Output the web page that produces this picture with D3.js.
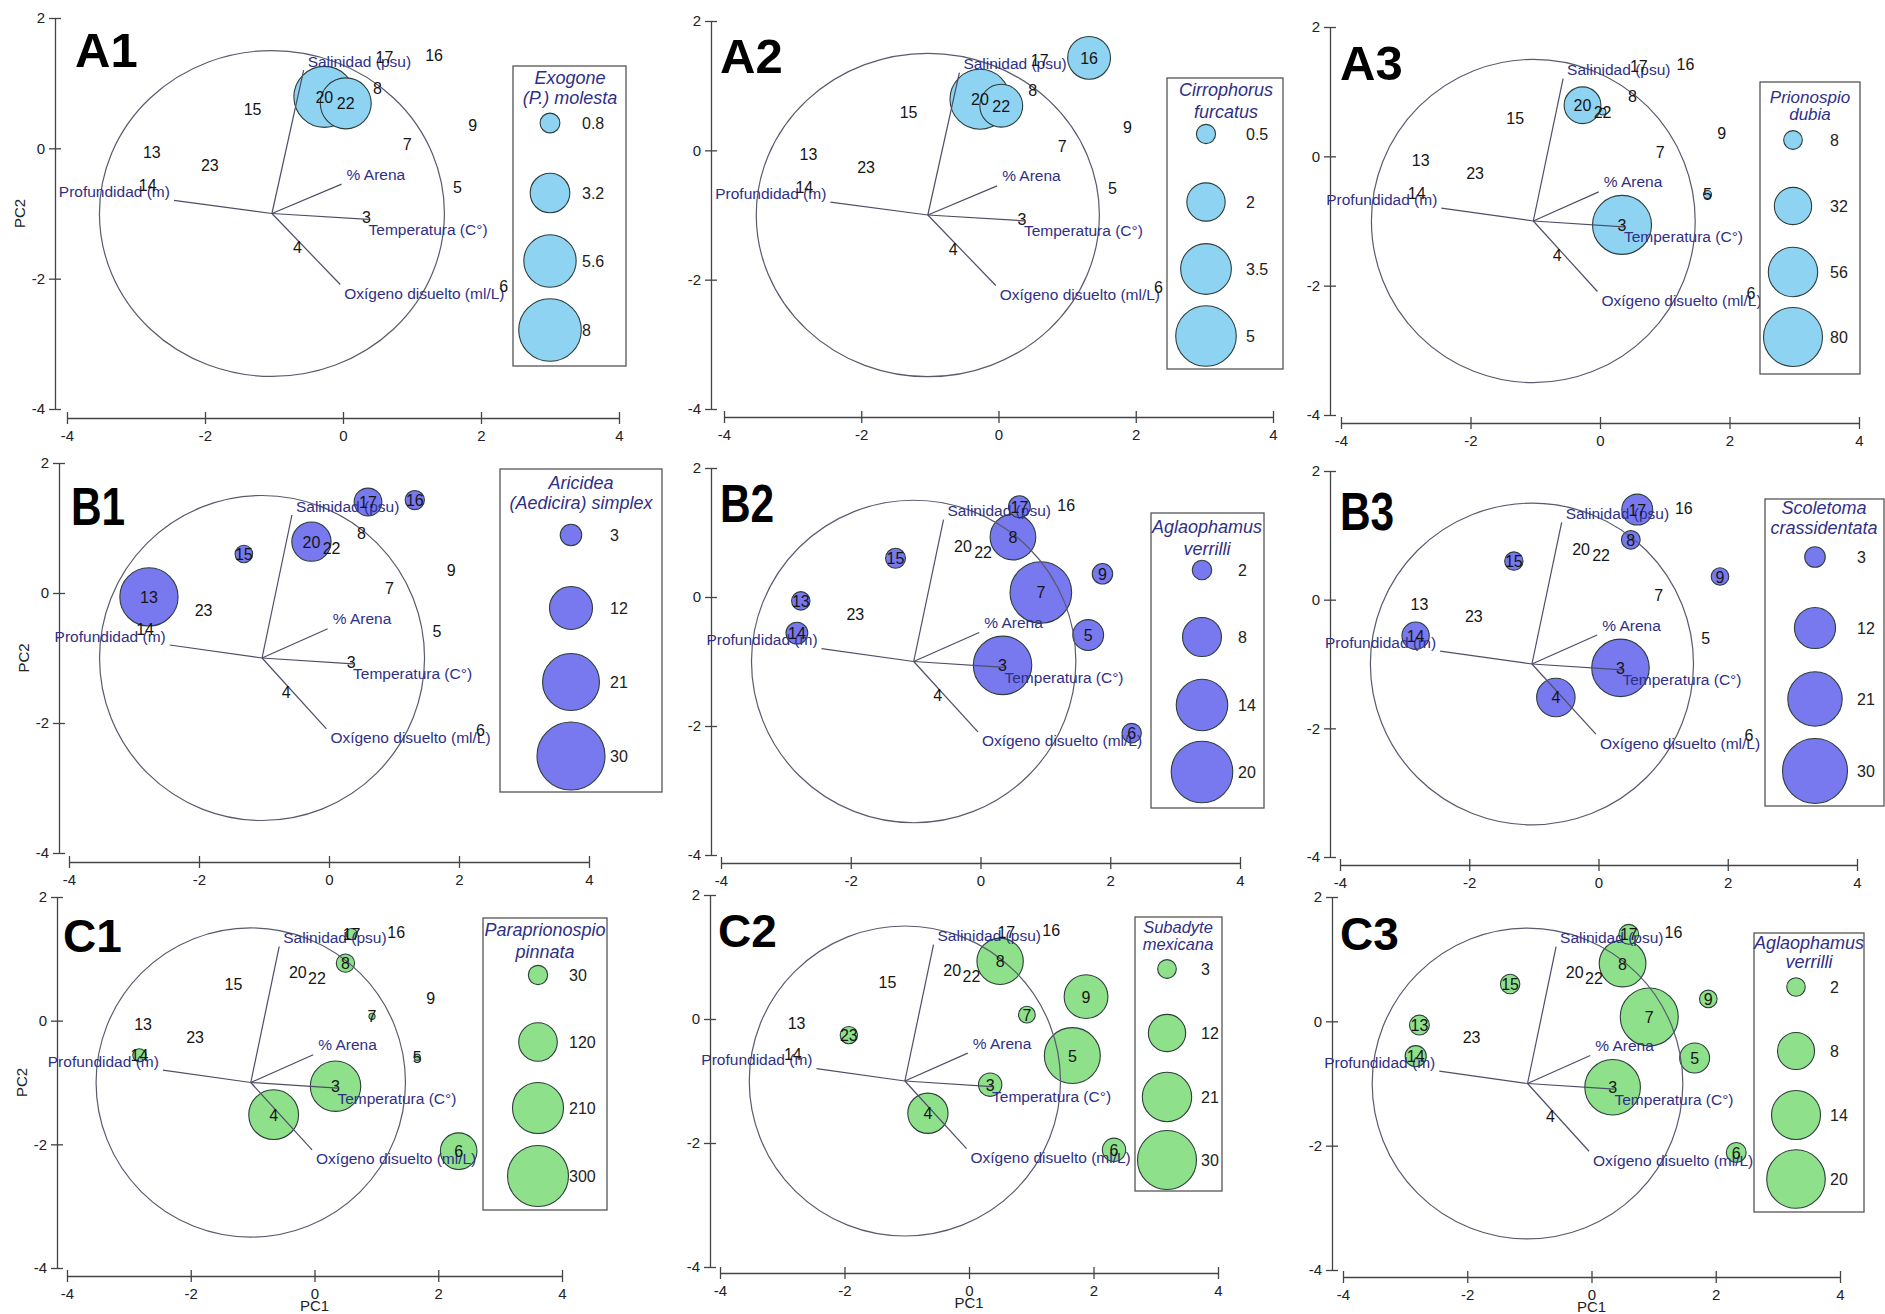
<!DOCTYPE html>
<html><head><meta charset="utf-8">
<script src="https://cdn.jsdelivr.net/npm/d3@7"></script>
<style>
body{margin:0;background:#fff}
svg{display:block}
text{font-family:"Liberation Sans",Arial,Helvetica,sans-serif}
</style>
</head><body>
<svg id="chart" width="1885" height="1314"></svg>
<script>
// ---------------- DATA ----------------
const stations = ["3","4","5","6","7","8","9","13","14","15","16","17","20","22","23"];
const pc1 = [0.34,-0.66,1.66,2.33,0.93,0.50,1.88,-2.77,-2.83,-1.31,1.32,0.60,-0.27,0.04,-1.93];
const pc2 = [-1.06,-1.52,-0.59,-2.11,0.07,0.93,0.36,-0.06,-0.56,0.60,1.43,1.40,0.79,0.69,-0.26];

const variables = ["Salinidad (psu)","% Arena","Profundidad (m)","Temperatura (C°)","Oxígeno disuelto (ml/L)"];
const vecPC1 = [-0.57,-0.02,-2.45,0.37,-0.04];
const vecPC2 = [1.20,-0.55,-0.80,-1.09,-2.09];
const vecOrigin = [-1.03,-1.00];
const circleCenter = [-1.03,-1.00];
const circleRadius = 2.5;

const xTicks = [-4,-2,0,2,4];
const yTicks = [2,0,-2,-4];

const panelIds = ["A1","A2","A3","B1","B2","B3","C1","C2","C3"];
const speciesLine1 = ["Exogone","Cirrophorus","Prionospio","Aricidea","Aglaophamus","Scoletoma","Paraprionospio","Subadyte","Aglaophamus"];
const speciesLine2 = ["(P.) molesta","furcatus","dubia","(Aedicira) simplex","verrilli","crassidentata","pinnata","mexicana","verrilli"];
const legendValues = [
  [0.8,3.2,5.6,8],[0.5,2,3.5,5],[8,32,56,80],
  [3,12,21,30],[2,8,14,20],[3,12,21,30],
  [30,120,210,300],[3,12,21,30],[2,8,14,20]
];

// abundances, in the order of `stations`: 3,4,5,6,7,8,9,13,14,15,16,17,20,22,23
const abundA1 = [0,0,0,0,0,0,0,0,0,0,0,0,7.6,5.3,0];
const abundA2 = [0,0,0,0,0,0,0,0,0,0,2.5,0,4.9,2.5,0];
const abundA3 = [80,0,1.5,0,0,0,0,0,0,0,0,0,31,1,0];
const abundB1 = [0,0,0,0,0,0,0,22,0,2,2.4,5,10,0,0];
const abundB2 = [18,0,5,2,20,11,2.2,1.8,2.5,2.1,0,2.5,0,0,0];
const abundB3 = [23.5,10.5,0,0,0,2.5,2.2,0,5.3,2.4,0,6.8,0,0,0];
const abundC1 = [205,200,3,108,3,27,0,0,14,0,0,10,0,0,0];
const abundC2 = [4.7,14,27,4.7,2.4,18.5,16.5,0,0,0,0,0,0,0,2.6];
const abundC3 = [18,0,5.2,2.3,19.6,12.7,1.8,2.3,2.6,2.2,0,2.3,0,0,0];
const abundances = [abundA1,abundA2,abundA3,abundB1,abundB2,abundB3,abundC1,abundC2,abundC3];

// ---------------- LAYOUT / STYLE ----------------
const layout = [
 {x:[67,619],  y:[18,409],  ax:55,  ay:418, r:31.3, L:[513,66,626,366],  tx:570,  ty:[78,98],   tf:18, bx:550, vx:582, ly:[123,193,261,330], lt:[75,67]},
 {x:[724,1273],y:[21,409],  ax:711, ay:417, r:30.3, L:[1167,78,1283,369],tx:1226, ty:[90,112],  tf:18, bx:1206,vx:1246,ly:[134,202,269,336], lt:[720,73]},
 {x:[1341,1859],y:[27,415], ax:1330,ay:423, r:29.5, L:[1760,82,1860,374],tx:1810, ty:[97,114],  tf:17, bx:1793,vx:1830,ly:[140,206,272,337], lt:[1340,80]},
 {x:[69,589],  y:[463,853], ax:59,  ay:862, r:34.0, L:[500,469,662,792], tx:581,  ty:[483,503], tf:18, bx:571, vx:610, ly:[535,608,682,756], lt:[71,525]},
 {x:[721,1240],y:[468,855], ax:711, ay:863, r:30.8, L:[1151,513,1264,808],tx:1207,ty:[527,549], tf:18, bx:1202,vx:1238,ly:[570,637,705,772], lt:[720,522]},
 {x:[1340,1857],y:[471,857],ax:1330,ay:865, r:32.5, L:[1765,499,1884,806],tx:1824,ty:[508,528], tf:18, bx:1815,vx:1857,ly:[557,628,699,771], lt:[1340,530]},
 {x:[67,562],  y:[897,1268],ax:57,  ay:1276,r:30.5, L:[483,918,607,1210],tx:545,  ty:[930,952], tf:18, bx:538, vx:569, ly:[975,1042,1108,1176],lt:[63,952]},
 {x:[720,1218],y:[895,1267],ax:710, ay:1273,r:29.5, L:[1135,917,1222,1191],tx:1178,ty:[927,944], tf:16.5,bx:1167,vx:1201,ly:[969,1033,1097,1160],lt:[718,947]},
 {x:[1343,1840],y:[897,1270],ax:1332,ay:1277,r:29.3, L:[1754,933,1864,1212],tx:1809,ty:[943,962], tf:18, bx:1796,vx:1830,ly:[987,1051,1115,1179],lt:[1340,950]}
];
const rowFill = ["#8fd3f3","#7878ef","#8fe08b"];
const letterFont = [
  {f:'"Liberation Sans",Arial,sans-serif', s:49, sx:1.0},
  {f:'"Liberation Sans",Arial,sans-serif', s:53, sx:0.8},
  {f:'"Liberation Sans",Arial,sans-serif', s:46, sx:1.0}
];
// label offsets for vector names (anchor, dx, dy of text centre)
const vecLabelPos = [
  {a:"start", dx:4, dy:-9},
  {a:"start", dx:5, dy:-10},
  {a:"end",   dx:-4, dy:-9},
  {a:"start", dx:0, dy:10},
  {a:"start", dx:4, dy:9}
];
const navy = "#2f2f86";

const svg = d3.select("#chart");

panelIds.forEach((id, i) => {
  const Lo = layout[i];
  const row = Math.floor(i/3), col = i%3;
  const x = d3.scaleLinear().domain([-4,4]).range(Lo.x);
  const y = d3.scaleLinear().domain([2,-4]).range(Lo.y);
  const vals = abundances[i];
  const vmax = d3.max(legendValues[i]);
  const rs = d3.scaleSqrt().domain([0,vmax]).range([0,Lo.r]);
  const g = svg.append("g");

  // axes
  const yAx = g.append("g").attr("transform",`translate(${Lo.ax},0)`)
    .call(d3.axisLeft(y).tickValues(yTicks).tickFormat(d=>String(d)).tickSizeInner(6).tickSizeOuter(0).tickPadding(4));
  const xAx = g.append("g").attr("transform",`translate(0,${Lo.ay})`)
    .call(d3.axisBottom(x).tickValues(xTicks).tickFormat(d=>String(d)).tickSizeInner(6).tickSizeOuter(0).tickPadding(6));
  [yAx,xAx].forEach(a=>{
    a.select(".domain").attr("stroke","#444").attr("stroke-width",1.3);
    a.selectAll(".tick line").attr("stroke","#444").attr("stroke-width",1.3);
    a.selectAll("text").attr("font-size",15).attr("fill","#222")
      .attr("font-family",'"Liberation Sans",Arial,sans-serif');
  });
  yAx.selectAll(".tick line").attr("x2",-6).attr("x1",6);
  xAx.selectAll(".tick line").attr("y1",-6).attr("y2",6);

  if (col === 0) {
    const yc = (Lo.y[0]+Lo.y[1])/2;
    g.append("text").attr("transform",`translate(${Lo.ax-30},${yc}) rotate(-90)`)
      .attr("text-anchor","middle").attr("font-size",15).attr("fill","#222").text("PC2");
  }
  if (row === 2) {
    g.append("text").attr("x",x(0)).attr("y",Lo.ay+35)
      .attr("text-anchor","middle").attr("font-size",15).attr("fill","#222").text("PC1");
  }

  // bubbles
  const pts = stations.map((s,k)=>({s, v:vals[k], px:pc1[k], py:pc2[k]}));
  g.append("g").selectAll("circle").data(pts.filter(d=>d.v>0)).join("circle")
    .attr("cx",d=>x(d.px)).attr("cy",d=>y(d.py)).attr("r",d=>rs(d.v))
    .attr("fill",rowFill[row]).attr("stroke","#2c3e3a").attr("stroke-width",1.1);

  // correlation circle
  g.append("ellipse")
    .attr("cx",x(circleCenter[0])).attr("cy",y(circleCenter[1]))
    .attr("rx",x(circleCenter[0]+circleRadius)-x(circleCenter[0]))
    .attr("ry",y(circleCenter[1])-y(circleCenter[1]+circleRadius))
    .attr("fill","none").attr("stroke","#5a5a6e").attr("stroke-width",1.2);

  // vectors
  const vec = variables.map((v,k)=>({v, ex:vecPC1[k], ey:vecPC2[k], lp:vecLabelPos[k]}));
  g.append("g").selectAll("line").data(vec).join("line")
    .attr("x1",x(vecOrigin[0])).attr("y1",y(vecOrigin[1]))
    .attr("x2",d=>x(d.ex)).attr("y2",d=>y(d.ey))
    .attr("stroke","#4d4d68").attr("stroke-width",1.2);
  g.append("g").selectAll("text").data(vec).join("text")
    .attr("x",d=>x(d.ex)+d.lp.dx).attr("y",d=>y(d.ey)+d.lp.dy+5.5)
    .attr("text-anchor",d=>d.lp.a).attr("font-size",15.5).attr("fill",navy)
    .text(d=>d.v);

  // station labels
  g.append("g").selectAll("text").data(pts).join("text")
    .attr("x",d=>x(d.px)).attr("y",d=>y(d.py)+6)
    .attr("text-anchor","middle").attr("font-size",16).attr("fill","#151515")
    .text(d=>d.s);

  // panel letter
  const lf = letterFont[row];
  g.append("text").attr("transform",`translate(${Lo.lt[0]},${Lo.lt[1]}) scale(${lf.sx},1)`)
    .attr("font-family",lf.f).attr("font-size",lf.s).attr("font-weight","bold")
    .attr("fill","#000").text(id);

  // legend
  const B = Lo.L;
  const lg = g.append("g");
  lg.append("rect").attr("x",B[0]).attr("y",B[1]).attr("width",B[2]-B[0]).attr("height",B[3]-B[1])
    .attr("fill","#fff").attr("stroke","#555").attr("stroke-width",1.3);
  [speciesLine1[i],speciesLine2[i]].forEach((t,k)=>{
    lg.append("text").attr("x",Lo.tx).attr("y",Lo.ty[k]+Lo.tf*0.36)
      .attr("text-anchor","middle").attr("font-style","italic").attr("font-size",Lo.tf)
      .attr("fill",navy).text(t);
  });
  lg.selectAll("circle").data(legendValues[i]).join("circle")
    .attr("cx",Lo.bx).attr("cy",(d,k)=>Lo.ly[k]).attr("r",d=>rs(d))
    .attr("fill",rowFill[row]).attr("stroke","#2c3e3a").attr("stroke-width",1.1);
  lg.selectAll("text.val").data(legendValues[i]).join("text").attr("class","val")
    .attr("x",Lo.vx).attr("y",(d,k)=>Lo.ly[k]+5.5).attr("font-size",16).attr("fill","#222")
    .text(d=>String(d));
});
</script>
</body></html>
